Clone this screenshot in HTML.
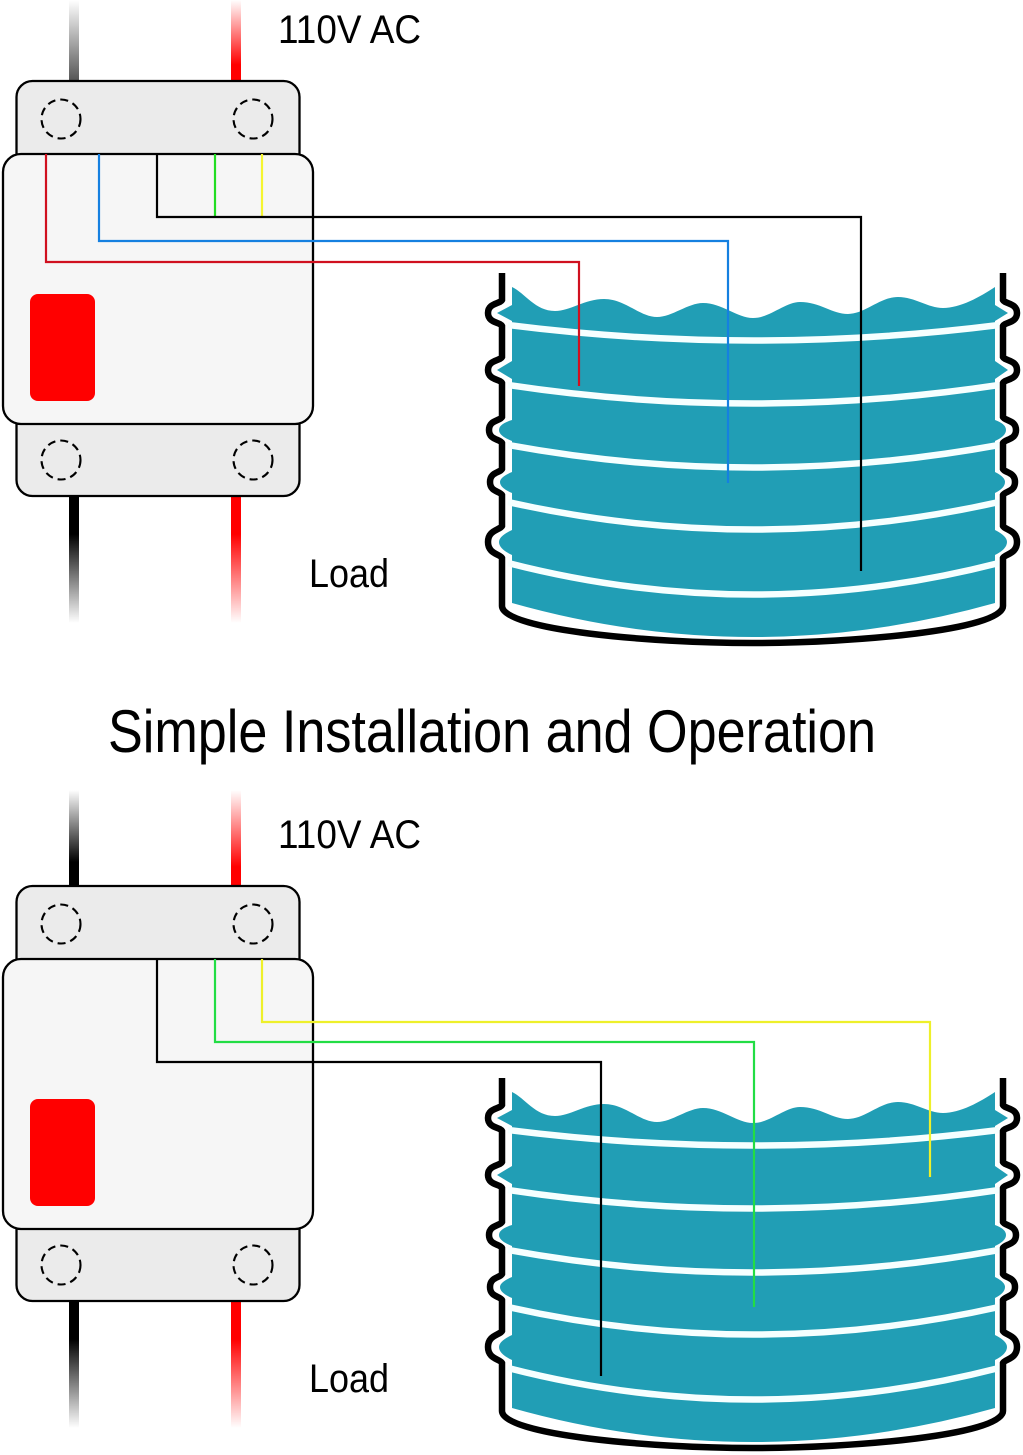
<!DOCTYPE html>
<html lang="en">
<head>
<meta charset="utf-8">
<title>Simple Installation and Operation</title>
<style>
html,body{margin:0;padding:0;background:#fff}
svg{display:block}
text{font-family:"Liberation Sans",Arial,sans-serif;fill:#000}
</style>
</head>
<body>
<svg xmlns="http://www.w3.org/2000/svg" width="1023" height="1455" viewBox="0 0 1023 1455">
<defs>
<linearGradient id="gk" x1="0" y1="0" x2="0" y2="1"><stop offset="0" stop-color="#000"/><stop offset=".3" stop-color="#000"/><stop offset="1" stop-color="#000" stop-opacity="0"/></linearGradient>
<linearGradient id="gr" x1="0" y1="0" x2="0" y2="1"><stop offset="0" stop-color="#f00"/><stop offset=".3" stop-color="#f00"/><stop offset="1" stop-color="#f00" stop-opacity="0"/></linearGradient>
<linearGradient id="gku" x1="0" y1="1" x2="0" y2="0"><stop offset="0" stop-color="#000"/><stop offset=".25" stop-color="#000"/><stop offset="1" stop-color="#000" stop-opacity="0"/></linearGradient>
<linearGradient id="gkf" x1="0" y1="1" x2="0" y2="0"><stop offset="0" stop-color="#555"/><stop offset="1" stop-color="#555" stop-opacity="0"/></linearGradient>
<linearGradient id="gru" x1="0" y1="1" x2="0" y2="0"><stop offset="0" stop-color="#f00"/><stop offset=".2" stop-color="#f00"/><stop offset="1" stop-color="#f00" stop-opacity="0"/></linearGradient>

<g id="tank">
<path d="M512 287 C525 293 535 311 555 311 C570 311 585 299 604 299 C625 299 640 317 657 317 C672 317 688 303 703 303 C722 303 737 318 753 318 C770 318 785 302 800 302 C820 302 832 314 848 314 C865 314 880 297 898 297 C915 297 928 308 943 308 C960 308 980 297 995 287 V305 L1008 313 L995 321 V361 L1008 370 L995 379 V420 Q1006 424 1006 430 Q1006 436 995 441 V472 Q1005 477 1005 482 Q1005 488 995 493 V530 Q1007 536 1007 542 Q1007 549 995 555 V603 Q753 671 512 603 V555 Q499 549 499 542 Q499 536 512 530 V493 Q500 488 500 482 Q500 477 512 472 V441 Q499 436 499 430 Q499 424 512 420 V379 L497 370 L512 361 V321 L497 313 L512 305 Z" fill="#219eb5"/>
<g fill="none" stroke="#f6ffff" stroke-width="6.500">
<path d="M508 325 Q753 356 999 325"/>
<path d="M508 385 Q753 422 999 385"/>
<path d="M508 445 Q753 490 999 445"/>
<path d="M508 502 Q753 557 999 502"/>
<path d="M508 563 Q753 626 999 563"/>
</g>
<path d="M502 273 V300 C500 304 488 303 488 313 C488 323 500 322 502 326 V357 C500 361 488 360 488 370 C488 380 500 379 502 383 V417 C500 421 489 420 489 430 C489 440 500 439 502 443 V469 C500 473 490 472 490 482 C490 492 500 491 502 495 V526 C500 530 488 530 488 542 C488 554 500 554 502 558 V606 C502 630 650 643 752 643 C855 643 1003 630 1003 606 V558 C1005 554 1017 554 1017 542 C1017 530 1005 530 1003 526 V495 C1005 491 1015 492 1015 482 C1015 472 1005 473 1003 469 V443 C1005 439 1016 440 1016 430 C1016 420 1005 421 1003 417 V383 C1005 379 1017 380 1017 370 C1017 360 1005 361 1003 357 V326 C1005 322 1017 323 1017 313 C1017 303 1005 304 1003 300 V273" fill="none" stroke="#000" stroke-width="6.500"/>
</g>

<g id="breaker">
<rect x="69" y="496" width="10" height="127" fill="url(#gk)"/>
<rect x="231" y="496" width="10" height="127" fill="url(#gr)"/>
<rect x="16.500" y="81" width="283" height="100" rx="16" fill="#ebebeb" stroke="#000" stroke-width="2.300"/>
<rect x="16.500" y="396" width="283" height="100" rx="16" fill="#ebebeb" stroke="#000" stroke-width="2.300"/>
<rect x="3" y="154" width="310" height="270" rx="18" fill="#f6f6f6" stroke="#000" stroke-width="2.300"/>
<rect x="30" y="294" width="65" height="107" rx="8" fill="#f00"/>
<g fill="none" stroke="#000" stroke-width="2.100" stroke-dasharray="8 5">
<circle cx="61" cy="119" r="19.500"/>
<circle cx="253" cy="119" r="19.500"/>
<circle cx="61" cy="460" r="19.500"/>
<circle cx="253" cy="460" r="19.500"/>
</g>
</g>
</defs>

<rect width="1023" height="1455" fill="#fff"/>

<!-- Top diagram -->
<rect x="69" y="0" width="10" height="81" fill="url(#gkf)"/>
<rect x="231" y="0" width="10" height="81" fill="url(#gru)"/>
<use href="#breaker"/>
<use href="#tank"/>
<g fill="none" stroke-width="2.200">
<path d="M46 154 V262 H579 V386" stroke="#d0101f"/>
<path d="M99 154 V241 H728 V483" stroke="#1580e0"/>
<path d="M215 154 V216" stroke="#22dd22"/>
<path d="M262 154 V216" stroke="#f5f530"/>
<path d="M157 154 V217 H861 V571" stroke="#000"/>
</g>
<text x="278" y="43" font-size="40" textLength="143" lengthAdjust="spacingAndGlyphs">110V AC</text>
<text x="309" y="587" font-size="40" textLength="80" lengthAdjust="spacingAndGlyphs">Load</text>

<text x="108" y="752" font-size="60" textLength="768" lengthAdjust="spacingAndGlyphs">Simple Installation and Operation</text>

<!-- Bottom diagram -->
<rect x="69" y="790" width="10" height="96" fill="url(#gku)"/>
<rect x="231" y="790" width="10" height="96" fill="url(#gru)"/>
<g transform="translate(0 805)">
<use href="#breaker"/>
<use href="#tank"/>
<g fill="none" stroke-width="2.200">
<path d="M262 154 V217 H930 V372" stroke="#eef02a"/>
<path d="M215 154 V237 H754 V502" stroke="#22dd44"/>
<path d="M157 154 V257 H601 V571" stroke="#000"/>
</g>
</g>
<text x="278" y="848" font-size="40" textLength="143" lengthAdjust="spacingAndGlyphs">110V AC</text>
<text x="309" y="1392" font-size="40" textLength="80" lengthAdjust="spacingAndGlyphs">Load</text>
</svg>
</body>
</html>
